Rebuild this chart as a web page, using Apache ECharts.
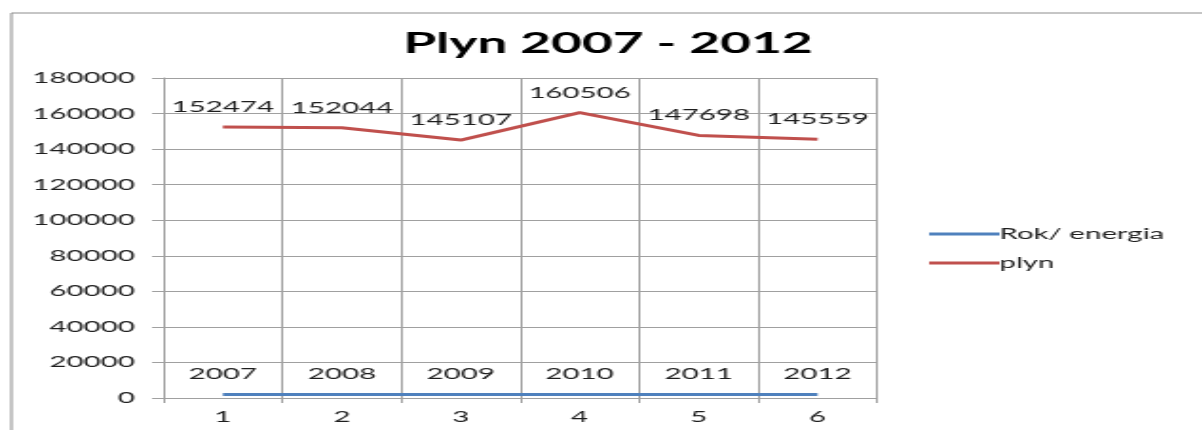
<!DOCTYPE html>
<html>
<head>
<meta charset="utf-8">
<script src="https://cdn.jsdelivr.net/npm/echarts@6/dist/echarts.min.js"></script>
<style>
html,body{margin:0;padding:0;background:#fff;overflow:hidden;width:1202px;height:430px;}
#wrap{width:1202px;height:430px;overflow:hidden;position:relative;}
#chart{width:633px;height:430px;transform:scaleX(1.9);transform-origin:0 0;position:absolute;left:0;top:0;}
</style>
</head>
<body>
<div id="wrap"><div id="chart"></div></div>
<script>
const categories = ['1', '2', '3', '4', '5', '6'];
const rokEnergia = [2007, 2008, 2009, 2010, 2011, 2012];
const plyn = [152474, 152044, 145107, 160506, 147698, 145559];
const yTicks = { min: 0, max: 180000, interval: 20000 };

const FONT = 'Lato';
const GRID = '#a0a0a0';
const TXT = '#1e1e1e';
const chart = echarts.init(document.getElementById('chart'), null, { renderer: 'canvas' });
const lbl = { show: true, position: 'top', distance: 12, fontFamily: FONT, fontSize: 15.5, color: TXT };
chart.setOption({
  animation: false,
  backgroundColor: '#fff',
  graphic: [{
    type: 'rect', left: 3.5, top: 10.5, silent: true,
    shape: { x: 0, y: 0, width: 800, height: 600 },
    style: { fill: 'none', stroke: '#8c8c8c', lineWidth: 1 }
  }],
  title: {
    text: 'Plyn 2007 - 2012',
    left: 315, top: 25, textAlign: 'center',
    textStyle: { fontFamily: FONT, fontWeight: 'bold', fontSize: 28, color: '#000' }
  },
  legend: {
    orient: 'vertical', left: 484, top: 221,
    icon: 'rect', itemWidth: 37, itemHeight: 3, itemGap: 13,
    textStyle: { fontFamily: FONT, fontSize: 15.5, color: TXT, padding: [0, 0, 0, -5] },
    data: ['Rok/ energia', 'plyn']
  },
  grid: { left: 86, right: 171.4, top: 78, bottom: 32, containLabel: false },
  xAxis: {
    type: 'category', data: categories, boundaryGap: true,
    axisLine: { show: true, lineStyle: { color: GRID, width: 1 } },
    axisTick: { show: true, length: 5, lineStyle: { color: GRID } },
    splitLine: { show: true, lineStyle: { color: GRID, width: 1 } },
    axisLabel: { fontFamily: FONT, fontSize: 15.5, color: TXT, margin: 11 }
  },
  yAxis: {
    type: 'value', min: yTicks.min, max: yTicks.max, interval: yTicks.interval,
    axisLine: { show: true, lineStyle: { color: GRID, width: 1 } },
    axisTick: { show: true, length: 6, lineStyle: { color: GRID } },
    splitLine: { show: true, lineStyle: { color: GRID, width: 1 } },
    axisLabel: { fontFamily: FONT, fontSize: 15.5, color: TXT, margin: 15, formatter: v => String(v) }
  },
  series: [
    {
      name: 'Rok/ energia', type: 'line', data: rokEnergia,
      symbol: 'circle', symbolSize: 0, showSymbol: true,
      lineStyle: { color: '#4F81BD', width: 3 }, itemStyle: { color: '#4F81BD' },
      label: Object.assign({}, lbl, { formatter: p => String(p.value) })
    },
    {
      name: 'plyn', type: 'line', data: plyn,
      symbol: 'circle', symbolSize: 0, showSymbol: true,
      lineStyle: { color: '#C0504D', width: 3 }, itemStyle: { color: '#C0504D' },
      label: Object.assign({}, lbl, { formatter: p => String(p.value) })
    }
  ]
});
</script>
</body>
</html>
